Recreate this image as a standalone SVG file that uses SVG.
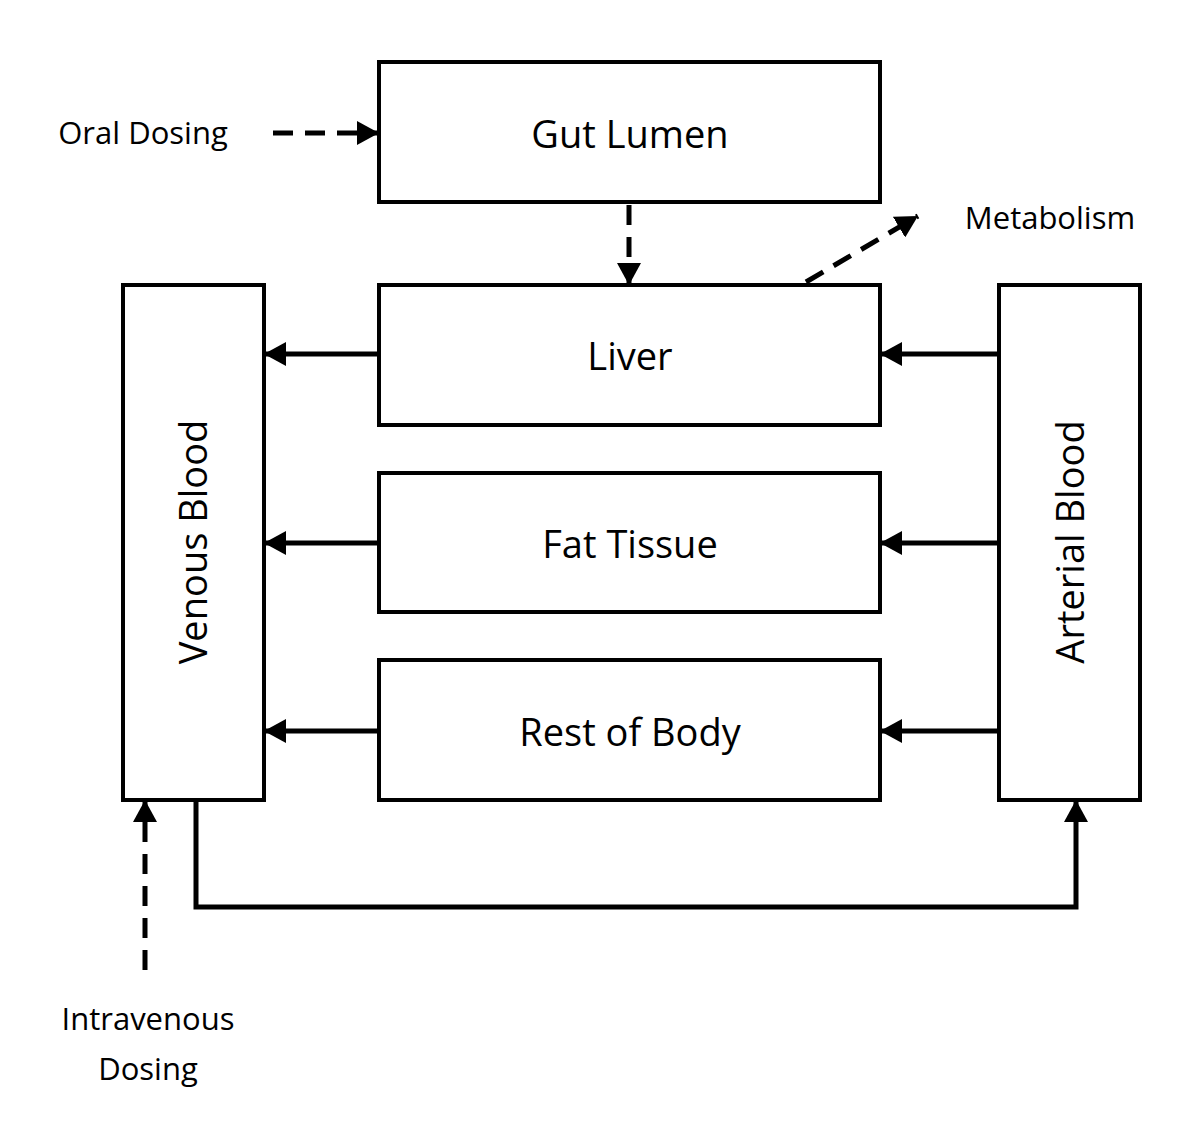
<svg xmlns="http://www.w3.org/2000/svg" width="1200" height="1140" viewBox="0 0 1200 1140">
<style>
.box{fill:#fff;stroke:#000;stroke-width:4}
.t{font-family:"Open Sans","Liberation Sans",sans-serif;font-size:38px;text-anchor:middle;fill:#000}
.s{font-family:"Open Sans","Liberation Sans",sans-serif;font-size:31px;text-anchor:middle;fill:#000}
.c{fill:none;stroke:#000;stroke-width:5}
.d{stroke-dasharray:20,12}
</style>
<defs>
<marker id="a" markerUnits="userSpaceOnUse" markerWidth="24" markerHeight="24" refX="22" refY="12" orient="auto"><path d="M0,0 L22,12 L0,24 z" fill="#000"/></marker>
</defs>
<rect width="1200" height="1140" fill="#fff"/>
<g id="gut"><rect class="box" x="379" y="62" width="501" height="140"/><text class="t" x="630" y="148">Gut Lumen</text></g>
<g id="liver"><rect class="box" x="379" y="285" width="501" height="140"/><text class="t" x="630" y="370">Liver</text></g>
<g id="fat"><rect class="box" x="379" y="473" width="501" height="139"/><text class="t" x="630" y="558">Fat Tissue</text></g>
<g id="rest"><rect class="box" x="379" y="660" width="501" height="140"/><text class="t" x="630" y="746">Rest of Body</text></g>
<g id="venous"><rect class="box" x="123" y="285" width="141" height="515"/><text class="t" transform="translate(207,542) rotate(-90)">Venous Blood</text></g>
<g id="arterial"><rect class="box" x="999" y="285" width="141" height="515"/><text class="t" transform="translate(1084,542) rotate(-90)">Arterial Blood</text></g>
<g id="labels">
<text class="s" x="143" y="144">Oral Dosing</text>
<text class="s" x="1050" y="229">Metabolism</text>
<text class="s" x="148" y="1030">Intravenous</text>
<text class="s" x="148" y="1080">Dosing</text>
</g>
<g id="connectors">
<path class="c" d="M379,354 H264" marker-end="url(#a)"/>
<path class="c" d="M379,543 H264" marker-end="url(#a)"/>
<path class="c" d="M379,731 H264" marker-end="url(#a)"/>
<path class="c" d="M999,354 H880" marker-end="url(#a)"/>
<path class="c" d="M999,543 H880" marker-end="url(#a)"/>
<path class="c" d="M999,731 H880" marker-end="url(#a)"/>
<path class="c" d="M196,800 V907 H1076 V800" marker-end="url(#a)"/>
<path class="c d" d="M145,970 V800" marker-end="url(#a)"/>
<path class="c d" d="M273,133 H379" marker-end="url(#a)"/>
<path class="c d" d="M629,205 V285" marker-end="url(#a)"/>
<path class="c d" d="M806,282 L918,216" marker-end="url(#a)"/>
</g>
</svg>
